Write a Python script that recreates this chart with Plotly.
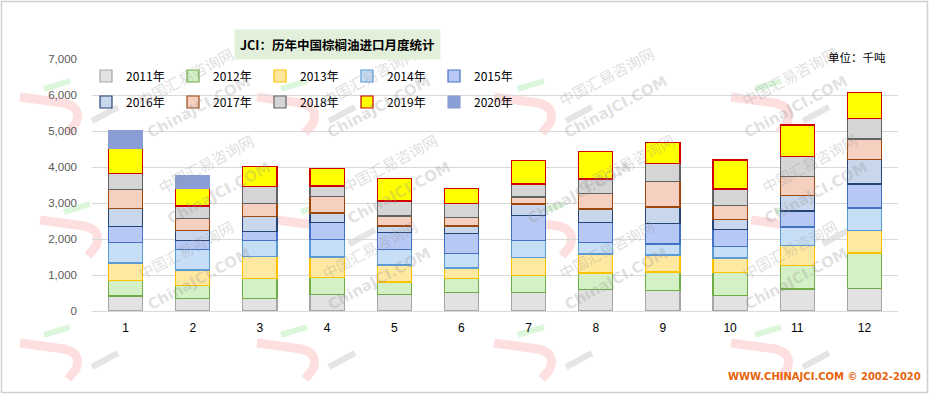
import plotly.graph_objects as go

# Monthly palm oil imports into China, thousand tonnes
months = ["1", "2", "3", "4", "5", "6", "7", "8", "9", "10", "11", "12"]

y2011 = [417, 343, 343, 454, 454, 509, 509, 593, 565, 435, 611, 630]
y2012 = [435, 361, 564, 472, 352, 389, 473, 463, 518, 639, 658, 981]
y2013 = [481, 435, 602, 574, 472, 297, 500, 527, 473, 398, 555, 630]
y2014 = [565, 565, 445, 482, 426, 398, 472, 315, 305, 324, 509, 620]
y2015 = [445, 250, 250, 472, 472, 555, 694, 556, 565, 473, 445, 667]
y2016 = [500, 277, 416, 268, 185, 213, 324, 379, 463, 277, 435, 685]
y2017 = [527, 334, 361, 454, 278, 232, 195, 427, 704, 389, 528, 565]
y2018 = [445, 352, 473, 296, 417, 389, 361, 407, 500, 454, 555, 574]
y2019 = [694, 481, 555, 482, 620, 416, 648, 759, 583, 806, 871, 722]
y2020 = [510, 371, None, None, None, None, None, None, None, None, None, None]

series_names = ["2011年", "2012年", "2013年", "2014年", "2015年",
                "2016年", "2017年", "2018年", "2019年", "2020年"]
series_values = [y2011, y2012, y2013, y2014, y2015,
                 y2016, y2017, y2018, y2019, y2020]

fills = ["#e2e2e2", "#d4f0c6", "#ffe9a0", "#c6def6", "#b8c8f4",
         "#c8d7ec", "#f5cfc0", "#d5d5d5", "#ffff00", "#8a9dd4"]
edges = ["#a6a6a6", "#70ad47", "#ffc000", "#5b9bd5", "#4472c4",
         "#264478", "#9e480e", "#636363", "#d00000", "#8a9dd4"]

W, H = 930, 395
ML, MR, MT, MB = 92, 32, 59, 84
PW, PH = W - ML - MR, H - MT - MB


def px(x):
    return (x - ML) / PW


def py(y):
    return (H - MB - y) / PH


fig = go.Figure()
for i, (name, vals) in enumerate(zip(series_names, series_values)):
    fig.add_trace(go.Bar(
        x=months, y=vals, name=name,
        marker=dict(color=fills[i], line=dict(color=edges[i], width=1.2)),
        legend="legend" if i < 5 else "legend2",
    ))

# Faint diagonal site watermark tiles
wm_ann = []
wm_shapes = []
tile_dx = 237
row_starts = [(80, 67), (100, 190), (80, 313)]
for rx, ry in row_starts:
    for k in range(0, 4):
        sx, sy = rx + k * tile_dx, ry
        wm_ann.append(dict(
            text="中国汇易咨询网", x=px(sx + 52), y=py(sy - 27),
            xref="paper", yref="paper", showarrow=False, textangle=-28,
            font=dict(family="Noto Sans CJK SC", size=15, color="rgba(150,150,150,0.32)"),
        ))
        wm_ann.append(dict(
            text="<b>ChinaJCI.COM</b>", x=px(sx + 62), y=py(sy + 3),
            xref="paper", yref="paper", showarrow=False, textangle=-28,
            font=dict(family="DejaVu Sans", size=15, color="rgba(150,150,150,0.28)"),
        ))
    for k in range(0, 5):
        sx, sy = rx + k * tile_dx, ry
        ox, oy = sx - 60, sy + 30
        hook = (f"M {px(ox):.4f},{py(oy):.4f} L {px(ox + 44):.4f},{py(oy + 6):.4f} "
                f"Q {px(ox + 62):.4f},{py(oy + 10):.4f} {px(ox + 56):.4f},{py(oy + 26):.4f} "
                f"L {px(ox + 48):.4f},{py(oy + 36):.4f}")
        wm_shapes.append(dict(type="path", path=hook, xref="paper", yref="paper",
                              line=dict(color="rgba(250,110,110,0.22)", width=9), layer="below"))
        green = f"M {px(ox + 24):.4f},{py(oy - 8):.4f} L {px(ox + 50):.4f},{py(oy - 16):.4f}"
        wm_shapes.append(dict(type="path", path=green, xref="paper", yref="paper",
                              line=dict(color="rgba(110,220,110,0.25)", width=6), layer="below"))
        grey = f"M {px(ox + 72):.4f},{py(oy + 24):.4f} L {px(ox + 98):.4f},{py(oy + 10):.4f}"
        wm_shapes.append(dict(type="path", path=grey, xref="paper", yref="paper",
                              line=dict(color="rgba(150,150,150,0.25)", width=6), layer="below"))

# Outer frame
wm_shapes.append(dict(type="rect", xref="paper", yref="paper",
                      x0=px(1.5), x1=px(W - 2.5), y0=py(H - 2.5), y1=py(1.5),
                      line=dict(color="#d0d0d0", width=1.5), fillcolor="rgba(0,0,0,0)"))

annotations = wm_ann + [
    dict(text="<b>JCI：历年中国棕榈油进口月度统计</b>", x=px(234), y=py(29),
         xref="paper", yref="paper", showarrow=False, bgcolor="#e2efda", borderpad=5,
         font=dict(family="Noto Sans CJK SC", size=12.5, color="#000000")),
    dict(text="单位：千吨", x=px(888), y=py(47), xref="paper", yref="paper",
         xanchor="right", showarrow=False,
         font=dict(family="Noto Sans CJK SC", size=11.5, color="#000000")),
    dict(text="<b>WWW.CHINAJCI.COM © 2002-2020</b>", x=px(923), y=py(384),
         xref="paper", yref="paper", xanchor="right", showarrow=False,
         font=dict(family="DejaVu Sans", size=10, color="#e8640c")),
]

legend_common = dict(orientation="h", xanchor="left", yanchor="middle",
                     bgcolor="rgba(0,0,0,0)", entrywidth=42, traceorder="normal",
                     font=dict(family="Noto Sans CJK SC", size=12, color="#000000"))

fig.update_layout(
    width=W, height=H,
    margin=dict(l=ML, r=MR, t=MT, b=MB),
    paper_bgcolor="#ffffff", plot_bgcolor="#ffffff",
    barmode="stack", bargap=0.49,
    showlegend=True,
    legend=dict(x=px(86), y=py(76), **legend_common),
    legend2=dict(x=px(86), y=py(102), **legend_common),
    xaxis=dict(type="category", showgrid=False, showline=False, ticks="",
               ticklabelstandoff=8,
               tickfont=dict(family="Liberation Sans", size=12, color="#000000")),
    yaxis=dict(range=[0, 7000], dtick=1000, tickformat=",", showgrid=True,
               gridcolor="#d9d9d9", gridwidth=1, zeroline=True, zerolinecolor="#d9d9d9",
               zerolinewidth=1, showline=False, ticks="", ticklabelstandoff=14,
               tickfont=dict(family="Liberation Sans", size=11.5, color="#595959")),
    annotations=annotations,
    shapes=wm_shapes,
)

fig.write_html("out.html")
